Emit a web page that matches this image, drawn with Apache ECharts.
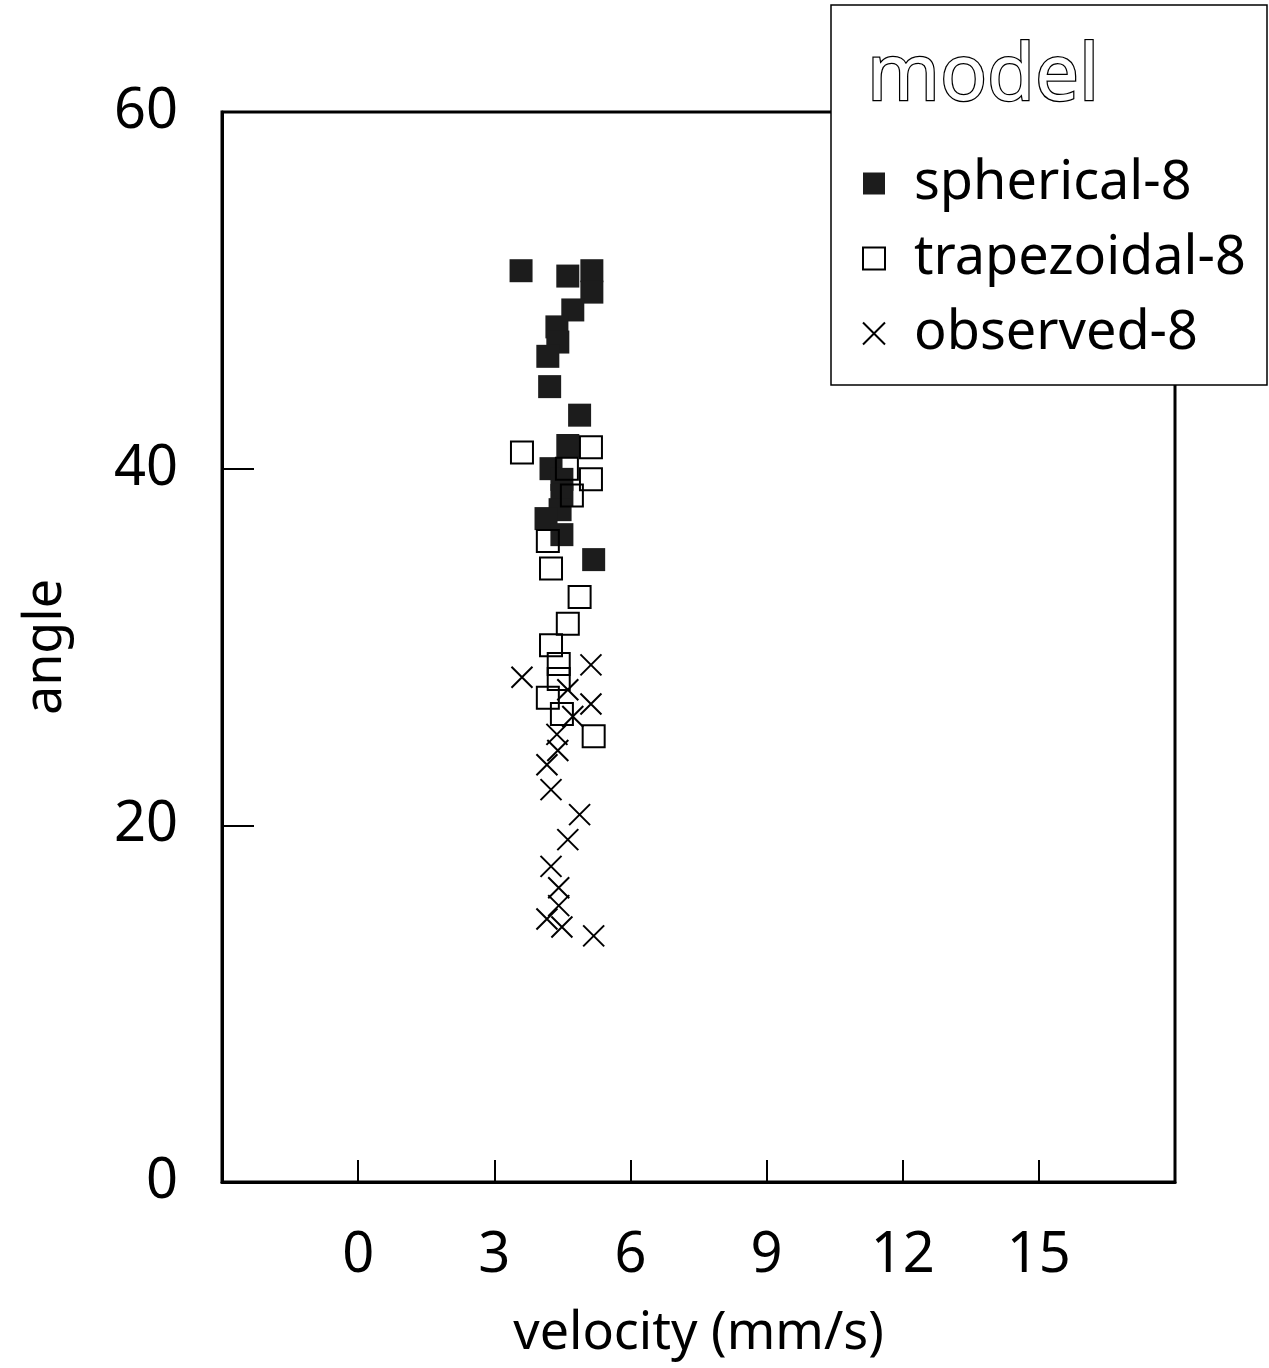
<!DOCTYPE html>
<html>
<head>
<meta charset="utf-8">
<script src="https://cdn.jsdelivr.net/npm/echarts@6/dist/echarts.min.js"></script>
<style>html,body{margin:0;padding:0;background:#fff}#c{width:1269px;height:1368px}</style>
</head>
<body>
<div id="c"></div>
<script>
// ---- data ----
var sphericalV = [3.59, 4.62, 5.15, 5.15, 4.73, 4.38, 4.40, 4.18, 4.22, 4.88, 4.62, 4.25, 4.49, 4.49, 4.45, 4.14, 4.49, 5.19];
var sphericalA = [51.1, 50.8, 51.1, 49.9, 48.9, 47.95, 47.1, 46.3, 44.6, 43.0, 41.3, 40.0, 39.4, 38.5, 37.7, 37.2, 36.3, 34.9];
var trapezoidalV = [3.61, 5.13, 4.60, 5.13, 4.71, 4.18, 4.25, 4.88, 4.62, 4.25, 4.42, 4.42, 4.18, 4.49, 5.19];
var trapezoidalA = [40.9, 41.2, 40.0, 39.4, 38.5, 35.95, 34.4, 32.8, 31.3, 30.1, 29.05, 28.2, 27.15, 26.25, 25.0];
var observedV = [3.61, 5.13, 4.62, 5.13, 4.73, 4.38, 4.40, 4.16, 4.25, 4.88, 4.62, 4.25, 4.42, 4.42, 4.16, 4.49, 5.19];
var observedA = [28.3, 29.0, 27.6, 26.8, 26.1, 25.1, 24.2, 23.4, 22.0, 20.6, 19.2, 17.7, 16.5, 15.5, 14.75, 14.3, 13.8];
var seriesNames = ['spherical-8', 'trapezoidal-8', 'observed-8'];
var xTicks = [0, 3, 6, 9, 12, 15];
var yTicks = [0, 20, 40, 60];
var legendTitle = 'model';

function pairs(xs, ys) { return xs.map(function (x, i) { return [x, ys[i]]; }); }

var FONT = 'Noto Sans';
var chart = echarts.init(document.getElementById('c'), null, { renderer: 'canvas' });
chart.setOption({
  backgroundColor: '#fff',
  animation: false,
  textStyle: { fontFamily: FONT },
  grid: { left: 222, right: 94, top: 112, bottom: 186, show: true, borderColor: '#000', borderWidth: 3 },
  title: {
    text: legendTitle, left: 862, top: 34, z: 30,
    textStyle: { fontFamily: FONT, fontSize: 78, fontWeight: 'normal', color: '#fff', textBorderColor: '#000', textBorderWidth: 2.5 }
  },
  graphic: [{
    type: 'rect', z: 20, silent: true,
    shape: { x: 831, y: 5, width: 436, height: 380 },
    style: { fill: '#fff', stroke: '#000', lineWidth: 1.5 }
  }],
  legend: {
    z: 30, orient: 'vertical', left: 857, top: 148,
    itemWidth: 22, itemHeight: 22, itemGap: 14,
    data: seriesNames,
    textStyle: { fontFamily: FONT, fontSize: 54, color: '#000', lineHeight: 61, padding: [0, 0, 0, 24] }
  },
  xAxis: {
    type: 'value', min: -3, max: 18, interval: 3,
    name: 'velocity (mm/s)', nameLocation: 'middle', nameGap: 126,
    nameTextStyle: { fontFamily: FONT, fontSize: 52, color: '#000' },
    splitLine: { show: false },
    axisLine: { show: true, onZero: false, lineStyle: { color: '#000', width: 3 } },
    axisTick: { show: true, inside: true, length: 22, lineStyle: { color: '#000', width: 2 }, customValues: xTicks },
    axisLabel: { fontFamily: FONT, fontSize: 56, color: '#000', margin: 46, customValues: xTicks }
  },
  yAxis: {
    type: 'value', min: 0, max: 60, interval: 20, position: 'left',
    name: 'angle', nameLocation: 'middle', nameGap: 150,
    nameTextStyle: { fontFamily: FONT, fontSize: 52, color: '#000' },
    splitLine: { show: false },
    axisLine: { show: true, onZero: false, lineStyle: { color: '#000', width: 3 } },
    axisTick: { show: true, inside: false, length: -32, lineStyle: { color: '#000', width: 2 }, customValues: yTicks },
    axisLabel: { fontFamily: FONT, fontSize: 56, color: '#000', margin: 44, customValues: yTicks }
  },
  series: [
    {
      name: seriesNames[0], type: 'scatter', symbol: 'rect', symbolSize: 23,
      itemStyle: { color: '#1c1c1c', opacity: 1 },
      data: pairs(sphericalV, sphericalA)
    },
    {
      name: seriesNames[1], type: 'scatter', symbol: 'rect', symbolSize: 22,
      itemStyle: { color: 'rgba(255,255,255,0)', borderColor: '#000', borderWidth: 2, opacity: 1 },
      data: pairs(trapezoidalV, trapezoidalA)
    },
    {
      name: seriesNames[2], type: 'scatter', symbol: 'path://M0,0L10,10M10,0L0,10', symbolSize: 21,
      itemStyle: { color: 'rgba(255,255,255,0)', borderColor: '#000', borderWidth: 2, opacity: 1 },
      data: pairs(observedV, observedA)
    }
  ]
});
</script>
</body>
</html>
